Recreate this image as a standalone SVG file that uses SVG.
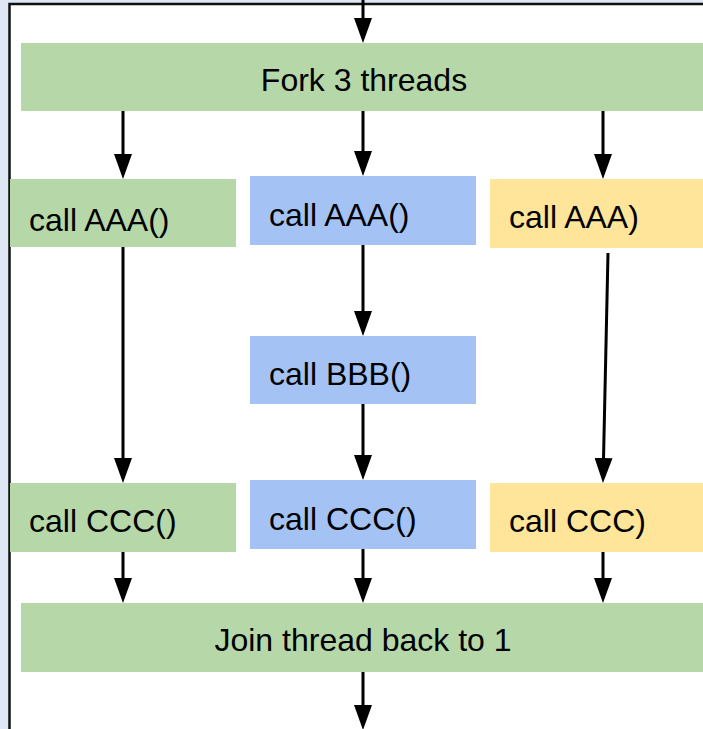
<svg xmlns="http://www.w3.org/2000/svg" width="703" height="729" viewBox="0 0 703 729">
  <defs>
    <marker id="ah" viewBox="0 0 25 18" refX="15" refY="9" markerWidth="25" markerHeight="18" markerUnits="userSpaceOnUse" orient="auto">
      <path d="M0,0 L25,9 L0,18 Z" fill="#000"/>
    </marker>
    <style>
      .g { fill: #b6d7a8; }
      .b { fill: #a4c2f4; }
      .y { fill: #ffe599; }
      text { font-family: "Liberation Sans", Arial, sans-serif; font-size: 32px; fill: #000; }
      .c { text-anchor: middle; }
      .conn line { stroke: #000; stroke-width: 3; marker-end: url(#ah); }
    </style>
  </defs>
  <rect x="0" y="0" width="703" height="729" fill="#dee7f3"/>
  <rect x="9.5" y="4" width="710" height="740" fill="#fff" stroke="#111" stroke-width="2.5"/>

  <g id="fork"><rect class="g" x="21" y="43" width="690" height="68"/><text class="c" x="364" y="91">Fork 3 threads</text></g>
  <g id="a1"><rect class="g" x="10" y="179" width="226" height="68"/><text x="29" y="231">call AAA()</text></g>
  <g id="a2"><rect class="b" x="250" y="176" width="226" height="69"/><text x="269" y="226">call AAA()</text></g>
  <g id="a3"><rect class="y" x="490" y="179" width="220" height="69"/><text x="509" y="228">call AAA)</text></g>
  <g id="bbb"><rect class="b" x="250" y="336" width="226" height="68"/><text x="269" y="385">call BBB()</text></g>
  <g id="c1"><rect class="g" x="10" y="483" width="226" height="69"/><text x="29" y="532">call CCC()</text></g>
  <g id="c2"><rect class="b" x="250" y="480" width="226" height="69"/><text x="269" y="530">call CCC()</text></g>
  <g id="c3"><rect class="y" x="490" y="483" width="220" height="69"/><text x="509" y="532">call CCC)</text></g>
  <g id="join"><rect class="g" x="21" y="603" width="690" height="69"/><text class="c" x="363" y="651">Join thread back to 1</text></g>

  <g id="connectors" class="conn">
    <line x1="363" y1="0" x2="363" y2="33"/>
    <line x1="123" y1="111" x2="123" y2="169"/>
    <line x1="363" y1="111" x2="363" y2="166"/>
    <line x1="603" y1="111" x2="603" y2="169"/>
    <line x1="123" y1="247" x2="123" y2="473"/>
    <line x1="363" y1="245" x2="363" y2="326"/>
    <line x1="363" y1="404" x2="363" y2="470"/>
    <line x1="608" y1="253" x2="603.2" y2="473"/>
    <line x1="123" y1="552" x2="123" y2="593"/>
    <line x1="363" y1="549" x2="363" y2="593"/>
    <line x1="603" y1="552" x2="603" y2="593"/>
    <line x1="363" y1="672" x2="363" y2="720"/>
  </g>
</svg>
